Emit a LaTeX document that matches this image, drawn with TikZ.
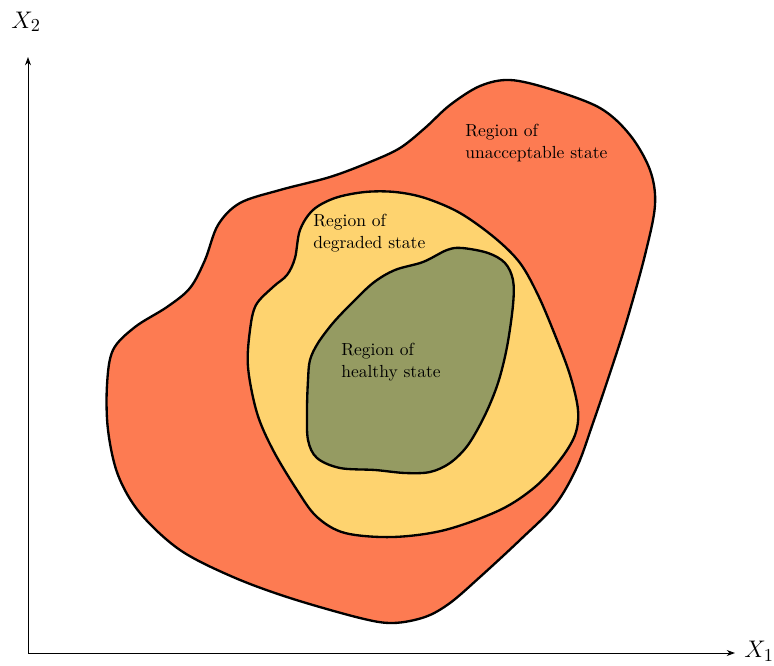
\documentclass[tikz,border=0pt]{standalone}
\usepackage{xcolor}
\usepackage{tikz}
\usetikzlibrary{arrows.meta, positioning}

\definecolor{unaccred}{HTML}{FD7B52}
\definecolor{degryellow}{HTML}{FED36F}
\definecolor{healthgreen}{HTML}{959B62}

\begin{document}
\begin{tikzpicture}[
  x=0.6pt, y=-0.6pt,
  every node/.style = {font=\fontsize{10.5}{13.2}\selectfont},
  region/.style = {draw=black, line width=1.4pt, line join=round},
  axis/.style   = {line width=0.6pt, -{Stealth[length=5pt, width=3.6pt]}},
  axlabel/.style= {inner sep=0pt, font=\fontsize{15}{18}\selectfont},
  rlabel/.style = {anchor=north west, inner sep=0pt, align=left},
]

\useasboundingbox (0,0) rectangle (774,666);

% ── AXES ────────────────────────────────────────────────────────────────────
\coordinate (O)    at (28,653);
\coordinate (Xend) at (735,653);
\coordinate (Yend) at (28,57);

\draw[axis] (O) -- (Xend);
\draw[axis] (O) -- (Yend);

\node[axlabel, anchor=west] at (744,651) (X1) {$X_1$};
\node[axlabel] at (26,22) (X2) {$X_2$};

% ── UNACCEPTABLE REGION ─────────────────────────────────────────────────────
\draw[region, fill=unaccred] plot[smooth cycle, tension=0.55] coordinates {
  (107,385) (113,350) (135,327) (167,307) (190,288) (205,260) (218,225)
  (240,203) (280,190) (330,177) (370,162) (400,148) (425,128) (450,105)
  (480,86) (510,80) (550,89) (600,108) (630,135) (650,170) (655,205)
  (645,255) (627,320) (610,373) (593,423) (577,467) (555,505) (520,540)
  (480,577) (450,603) (425,617) (393,623) (360,618) (290,598) (233,577)
  (180,550) (140,513) (118,475) (108,430)};

% ── DEGRADED REGION ─────────────────────────────────────────────────────────
\draw[region, fill=degryellow] plot[smooth cycle, tension=0.55] coordinates {
  (248,367) (250,330) (256,305) (273,287) (287,275) (295,258) (300,230)
  (313,210) (335,198) (365,192) (395,192) (425,198) (460,213) (495,238)
  (520,263) (538,295) (555,335) (570,375) (578,410) (575,435) (560,460)
  (535,487) (500,510) (445,530) (393,537) (345,533) (317,517) (297,490)
  (273,450) (257,413)};

% ── HEALTHY REGION ──────────────────────────────────────────────────────────
\draw[region, fill=healthgreen] plot[smooth cycle, tension=0.55] coordinates {
  (308,380) (310,360) (318,343) (333,323) (350,305) (373,283) (395,270)
  (423,262) (447,250) (462,248) (488,253) (505,263) (513,280) (513,305)
  (507,347) (498,383) (485,415) (468,445) (450,463) (430,472) (405,473)
  (375,470) (340,468) (317,458) (308,440) (307,410)};

% ── LABELS ──────────────────────────────────────────────────────────────────
\node[rlabel] at (465,124) (unacc) {Region of\\unacceptable state};
\node[rlabel] at (313,214) (degr)  {Region of\\degraded state};
\node[rlabel] at (341,343) (healt) {Region of\\healthy state};

\end{tikzpicture}
\end{document}
